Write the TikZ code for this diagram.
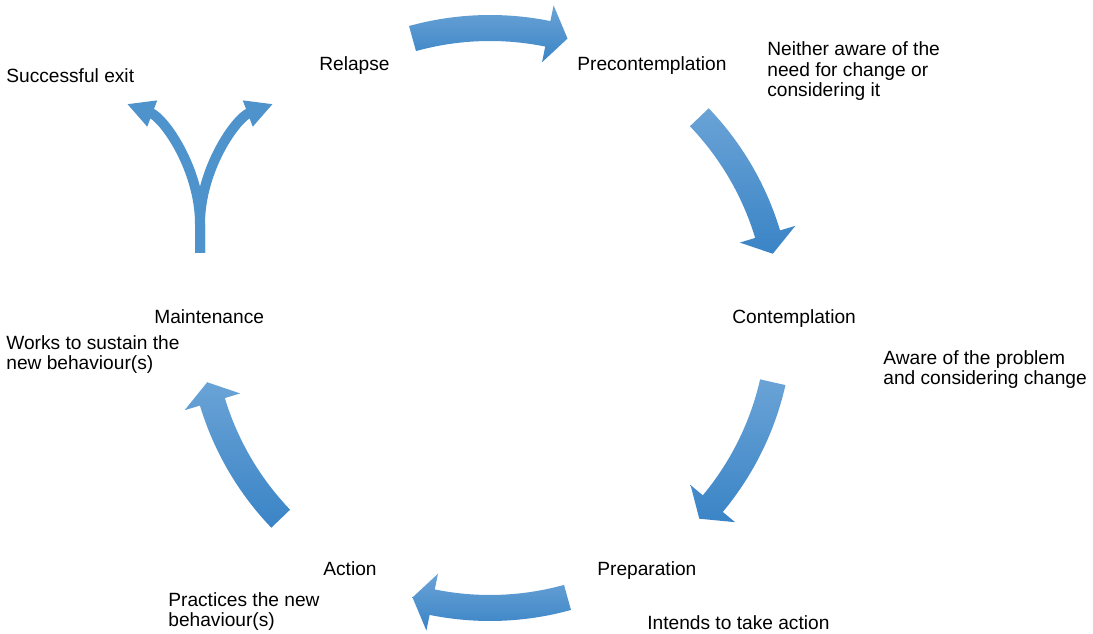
\documentclass[tikz,border=0pt]{standalone}
\usepackage{fontspec}
\setmainfont{Liberation Sans}
\usetikzlibrary{calc, arrows.meta}

\definecolor{cyclelight}{RGB}{106,163,214}
\definecolor{cycledark}{RGB}{58,132,198}
\definecolor{forkblue}{RGB}{78,147,203}

% curved block arrow round (c), tail at angle #1, tip at angle #2
\newcommand{\stagearrow}[2]{%
  \shade[arrowfill] ($(c)+(#1:6.06)$) arc[start angle=#1, end angle=#2+4, radius=6.06]
    -- ($(c)+(#2+4:6.38)$) -- ($(c)+(#2:5.8)$) -- ($(c)+(#2+4:5.22)$)
    -- ($(c)+(#2+4:5.54)$) arc[start angle=#2+4, end angle=#1, radius=5.54] -- cycle;}

\begin{document}
\begin{tikzpicture}[
  stage/.style={anchor=base west, inner sep=0pt, font=\fontsize{10.9pt}{11.9pt}\selectfont},
  note/.style={stage, align=left},
  arrowfill/.style={top color=cyclelight, bottom color=cycledark},
  fork/.style={draw=forkblue, line width=0.2cm, -{Triangle[width=0.52cm,length=0.54cm]}}
]
\useasboundingbox (0,0) rectangle (21.86,12.68);
\coordinate (c) at (9.8,6.32);

% the cycle
\stagearrow{105.5}{74.5}
\stagearrow{43.8}{12.8}
\stagearrow{-12.8}{-43.8}
\stagearrow{-74.5}{-105.5}
\stagearrow{223.8}{192.8}

% way out after maintenance
\coordinate (stem) at (4.0,7.62);
\coordinate (split) at (4.0,8.2);
\coordinate (exitl) at (2.54,10.6);
\coordinate (exitr) at (5.46,10.6);
\draw[fork] (stem) -- (split) .. controls (4.0,9.3) and (3.28,10.32) .. (exitl);
\draw[fork] (stem) -- (split) .. controls (4.0,9.3) and (4.72,10.32) .. (exitr);

% notes are placed by the baseline of their last line
\node[stage] (exit) at (0.12,11.02) {Successful exit};
\node[stage] (relapse) at (6.38,11.26) {Relapse};
\node[stage] (precon) at (11.54,11.26) {Precontemplation};
\node[note] (precontext) at (15.34,10.74) {Neither aware of the\\need for change or\\considering it};
\node[stage] (contemp) at (14.64,6.2) {Contemplation};
\node[note] (contemptext) at (17.66,4.98) {Aware of the problem\\and considering change};
\node[stage] (prep) at (11.94,1.16) {Preparation};
\node[stage] (preptext) at (12.94,0.08) {Intends to take action};
\node[stage] (action) at (6.46,1.16) {Action};
\node[note] (actiontext) at (3.36,0.14) {Practices the new\\behaviour(s)};
\node[stage] (maint) at (3.08,6.2) {Maintenance};
\node[note] (mainttext) at (0.12,5.28) {Works to sustain the\\new behaviour(s)};
\end{tikzpicture}
\end{document}
